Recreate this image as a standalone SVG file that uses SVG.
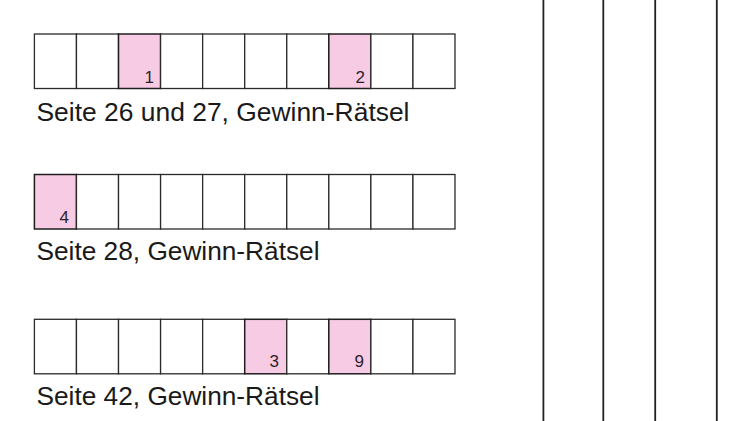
<svg xmlns="http://www.w3.org/2000/svg" width="750" height="421" viewBox="0 0 750 421">
<style>
.cell{fill:#ffffff;stroke:#2a2a2a;stroke-width:1.3}
.hi{fill:#f8cbe4;stroke:#1e1e1e;stroke-width:1.5}
.num{font-family:"Liberation Sans",Arial,sans-serif;font-size:17px;fill:#2b1f2b;text-anchor:end}
.lbl{font-family:"Liberation Sans",Arial,sans-serif;font-size:25.5px;fill:#1a1a1a}
.vl{stroke:#222222;stroke-width:1.8}
</style>
<rect width="750" height="421" fill="#ffffff"/>
<g id="row1">
<rect class="cell" x="34.4" y="34" width="42.06" height="54.5"/>
<rect class="cell" x="76.46" y="34" width="42.06" height="54.5"/>
<rect class="hi" x="118.52" y="34" width="42.06" height="54.5"/>
<rect class="cell" x="160.58" y="34" width="42.06" height="54.5"/>
<rect class="cell" x="202.64" y="34" width="42.06" height="54.5"/>
<rect class="cell" x="244.7" y="34" width="42.06" height="54.5"/>
<rect class="cell" x="286.76" y="34" width="42.06" height="54.5"/>
<rect class="hi" x="328.82" y="34" width="42.06" height="54.5"/>
<rect class="cell" x="370.88" y="34" width="42.06" height="54.5"/>
<rect class="cell" x="412.94" y="34" width="42.06" height="54.5"/>
<text class="num" x="154" y="82.5">1</text>
<text class="num" x="365" y="82.5">2</text>
<text class="lbl" x="36.5" y="121" textLength="373" lengthAdjust="spacingAndGlyphs">Seite 26 und 27, Gewinn-Rätsel</text>
</g>
<g id="row2">
<rect class="hi" x="34.4" y="174.5" width="42.06" height="54.5"/>
<rect class="cell" x="76.46" y="174.5" width="42.06" height="54.5"/>
<rect class="cell" x="118.52" y="174.5" width="42.06" height="54.5"/>
<rect class="cell" x="160.58" y="174.5" width="42.06" height="54.5"/>
<rect class="cell" x="202.64" y="174.5" width="42.06" height="54.5"/>
<rect class="cell" x="244.7" y="174.5" width="42.06" height="54.5"/>
<rect class="cell" x="286.76" y="174.5" width="42.06" height="54.5"/>
<rect class="cell" x="328.82" y="174.5" width="42.06" height="54.5"/>
<rect class="cell" x="370.88" y="174.5" width="42.06" height="54.5"/>
<rect class="cell" x="412.94" y="174.5" width="42.06" height="54.5"/>
<text class="num" x="69" y="223.3">4</text>
<text class="lbl" x="36.5" y="260" textLength="283" lengthAdjust="spacingAndGlyphs">Seite 28, Gewinn-Rätsel</text>
</g>
<g id="row3">
<rect class="cell" x="34.4" y="319.3" width="42.06" height="54.5"/>
<rect class="cell" x="76.46" y="319.3" width="42.06" height="54.5"/>
<rect class="cell" x="118.52" y="319.3" width="42.06" height="54.5"/>
<rect class="cell" x="160.58" y="319.3" width="42.06" height="54.5"/>
<rect class="cell" x="202.64" y="319.3" width="42.06" height="54.5"/>
<rect class="hi" x="244.7" y="319.3" width="42.06" height="54.5"/>
<rect class="cell" x="286.76" y="319.3" width="42.06" height="54.5"/>
<rect class="hi" x="328.82" y="319.3" width="42.06" height="54.5"/>
<rect class="cell" x="370.88" y="319.3" width="42.06" height="54.5"/>
<rect class="cell" x="412.94" y="319.3" width="42.06" height="54.5"/>
<text class="num" x="279" y="367">3</text>
<text class="num" x="364" y="367">9</text>
<text class="lbl" x="36.5" y="405" textLength="283" lengthAdjust="spacingAndGlyphs">Seite 42, Gewinn-Rätsel</text>
</g>
<g id="columns">
<line class="vl" x1="543.4" y1="0" x2="543.4" y2="421"/>
<line class="vl" x1="603.3" y1="0" x2="603.3" y2="421"/>
<line class="vl" x1="655.2" y1="0" x2="655.2" y2="421"/>
<line class="vl" x1="716.8" y1="0" x2="716.8" y2="421"/>
</g>
</svg>
